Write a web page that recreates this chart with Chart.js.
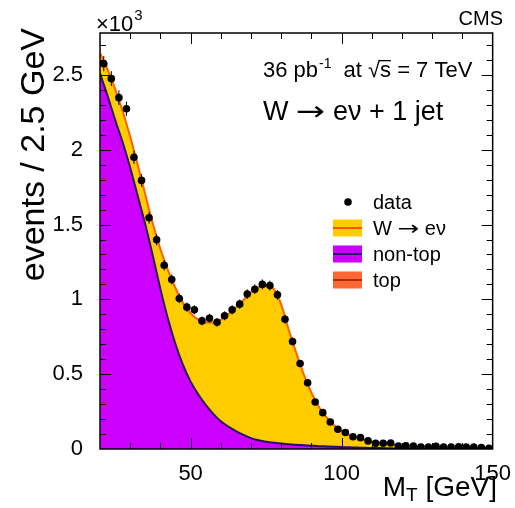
<!DOCTYPE html>
<html>
<head>
<meta charset="utf-8">
<script src="https://cdn.jsdelivr.net/npm/chart.js@4.4.0/dist/chart.umd.min.js"></script>
<style>
  html, body { margin: 0; padding: 0; background: #fff; }
</style>
</head>
<body>
<canvas id="mtChart" width="515" height="508"></canvas>
<script>
// M_T bin edges (GeV), MC curves are given at these points
const binEdges = [20, 22.5, 25, 27.5, 30, 32.5, 35, 37.5, 40, 42.5, 45, 47.5, 50, 52.5, 55, 57.5,
    60, 62.5, 65, 67.5, 70, 72.5, 75, 77.5, 80, 82.5, 85, 87.5, 90, 92.5, 95, 97.5, 100,
    102.5, 105, 107.5, 110, 112.5, 115, 117.5, 120, 122.5, 125, 127.5, 130, 132.5, 135,
    137.5, 140, 142.5, 145, 147.5, 150];

// events per 2.5 GeV bin (data, at bin centres)
const dataCounts = [2575, 2475, 2348, 2274, 1949, 1795, 1545, 1398, 1228, 1133, 1006, 948, 930,
    856, 874, 847, 890, 930, 968, 1035, 1068, 1100, 1092, 1030, 867, 718, 571, 443, 314, 243,
    180, 132, 110, 82, 76, 54, 38, 38, 40, 20, 22, 20, 13, 13, 18, 13, 13, 15, 13, 13, 9, 5];

// MC expectations at the bin edges
const nonTopCounts = [2510, 2360, 2200, 2050, 1880, 1690, 1500, 1290, 1070, 870, 700, 560, 450,
    365, 295, 235, 185, 150, 120, 94, 73, 58, 48, 41, 36, 32, 28, 25, 22, 19, 17, 15, 13, 11,
    10, 8, 7, 6, 5, 4, 4, 3, 3, 2, 2, 2, 2, 1, 1, 1, 1, 1, 1];
const wenuCounts = [137, 177, 207, 207, 207, 207, 200, 215, 266, 326, 376, 416, 456, 500, 550,
    610, 680, 750, 825, 901, 972, 1022, 1047, 1029, 929, 763, 613, 471, 354, 262, 194, 142,
    109, 84, 65, 52, 41, 34, 29, 25, 21, 19, 16, 15, 13, 11, 10, 10, 9, 8, 7, 6, 5];
const topCounts = [3, 3, 3, 3, 3, 3, 3, 3, 4, 4, 4, 4, 4, 5, 5, 5, 5, 5, 5, 5, 5, 5, 5, 5, 5,
    4, 4, 4, 4, 4, 4, 3, 3, 3, 3, 2, 2, 2, 2, 2, 2, 1, 1, 1, 1, 1, 1, 1, 1, 1, 1, 1, 1];

const xTickValues = [50, 100, 150];
const yTickValues = [0, 500, 1000, 1500, 2000, 2500];

const FONT = "'Liberation Sans', Arial, Helvetica, sans-serif";
const ARROW_FONT = "'DejaVu Sans', sans-serif";

const binCentres = dataCounts.map((_, i) => (binEdges[i] + binEdges[i + 1]) / 2);
const toPoints = (xs, ys) => ys.map((y, i) => ({ x: xs[i], y: y }));

// draws a run of text pieces; each piece may have its own size, font, shift and x-stretch
function drawRun(ctx, parts, x, y) {
    parts.forEach(p => {
        ctx.font = p.size + 'px ' + (p.family || FONT);
        const sx = p.stretch || 1;
        const w = ctx.measureText(p.text).width * sx;
        ctx.save();
        ctx.translate(x + (p.gap || 0), y + (p.dy || 0));
        ctx.scale(sx, 1);
        ctx.fillText(p.text, 0, 0);
        ctx.restore();
        if (p.bar) {
            ctx.fillRect(x + (p.gap || 0) + w * p.bar[0], y - p.bar[2], w * (p.bar[1] - p.bar[0]), 1.3);
        }
        x += w + (p.gap || 0);
    });
    return x;
}

// ROOT-like frame with inward ticks on all four sides, error bars, legend and labels
const rootStyle = {
    id: 'rootStyle',
    afterDatasetsDraw(chart) {
        const ctx = chart.ctx;
        const y = chart.scales.y;
        const meta = chart.getDatasetMeta(0);
        ctx.save();
        ctx.strokeStyle = '#000';
        ctx.lineWidth = 1;
        chart.data.datasets[0].data.forEach((p, i) => {
            const err = Math.sqrt(p.y);
            const px = meta.data[i].x;
            ctx.beginPath();
            ctx.moveTo(px, y.getPixelForValue(p.y - err));
            ctx.lineTo(px, y.getPixelForValue(p.y + err));
            ctx.stroke();
        });
        ctx.restore();
    },
    afterDraw(chart) {
        const ctx = chart.ctx;
        const a = chart.chartArea;
        const x = chart.scales.x, y = chart.scales.y;
        ctx.save();
        ctx.strokeStyle = '#000';
        ctx.lineWidth = 1.5;
        ctx.strokeRect(a.left, a.top, a.right - a.left, a.bottom - a.top);
        ctx.lineWidth = 1;
        ctx.beginPath();
        for (let v = 100; v < y.max; v += 100) {
            const len = v % 500 === 0 ? 11 : 6;
            const py = Math.round(y.getPixelForValue(v)) + 0.5;
            ctx.moveTo(a.left, py); ctx.lineTo(a.left + len, py);
            ctx.moveTo(a.right, py); ctx.lineTo(a.right - len, py);
        }
        for (let v = 30; v < x.max; v += 10) {
            const len = v % 50 === 0 ? 11 : 6;
            const px = Math.round(x.getPixelForValue(v)) + 0.5;
            ctx.moveTo(px, a.bottom); ctx.lineTo(px, a.bottom - len);
            ctx.moveTo(px, a.top); ctx.lineTo(px, a.top + len);
        }
        ctx.stroke();

        ctx.fillStyle = '#000';
        ctx.textBaseline = 'alphabetic';
        ctx.textAlign = 'left';

        // axis titles
        ctx.font = '34px ' + FONT;
        ctx.save();
        ctx.translate(44, 28);
        ctx.rotate(-Math.PI / 2);
        ctx.textAlign = 'right';
        ctx.fillText('events / 2.5 GeV', 0, 0);
        ctx.restore();

        ctx.font = '28px ' + FONT;
        const wM = ctx.measureText('M').width;
        const wTail = ctx.measureText(' [GeV]').width;
        ctx.font = '19px ' + FONT;
        const wT = ctx.measureText('T').width;
        drawRun(ctx, [
            { text: 'M', size: 28 },
            { text: 'T', size: 19, dy: 5 },
            { text: ' [GeV]', size: 28 }
        ], 497 - wM - wT - wTail, 496);

        // exponent and experiment labels
        drawRun(ctx, [
            { text: '\u00d710', size: 22 },
            { text: '3', size: 15, dy: -11, gap: 1 }
        ], 96, 31);
        ctx.font = '20px ' + FONT;
        ctx.textAlign = 'right';
        ctx.fillText('CMS', 503, 25);
        ctx.textAlign = 'left';

        drawRun(ctx, [
            { text: '36 pb', size: 22 },
            { text: '-1', size: 14, dy: -9, gap: 1 },
            { text: 'at ', size: 22, gap: 12 },
            { text: '\u221as', size: 22, bar: [0.48, 1.0, 17] },
            { text: ' = 7 TeV', size: 22 }
        ], 263, 77);

        drawRun(ctx, [
            { text: 'W ', size: 27 },
            { text: '\u2192', size: 27, family: ARROW_FONT, stretch: 1.3 },
            { text: ' e\u03bd + 1 jet', size: 27 }
        ], 263, 120);

        // legend
        const ds = chart.data.datasets;
        const entries = [
            { set: ds[0], y: 202 },
            { set: ds[2], y: 228 },
            { set: ds[1], y: 254 },
            { set: ds[3], y: 280 }
        ];
        entries.forEach(e => {
            if (e.set.showLine === false) {
                ctx.fillStyle = '#000';
                ctx.beginPath();
                ctx.arc(348, e.y, 3.8, 0, Math.PI * 2);
                ctx.fill();
            } else {
                ctx.fillStyle = e.set.backgroundColor;
                ctx.fillRect(333, e.y - 8.5, 29, 17);
                ctx.strokeStyle = e.set.legendLine;
                ctx.lineWidth = 2;
                ctx.beginPath();
                ctx.moveTo(333, e.y); ctx.lineTo(362, e.y);
                ctx.stroke();
            }
            ctx.fillStyle = '#000';
            const pieces = e.set.label.split('\u2192');
            const run = [{ text: pieces[0], size: 20 }];
            if (pieces.length > 1) {
                run.push({ text: '\u2192', size: 20, family: ARROW_FONT, stretch: 1.3 });
                run.push({ text: pieces[1], size: 20 });
            }
            drawRun(ctx, run, 373, e.y + 7);
        });
        ctx.restore();
    }
};

const ctx = document.getElementById('mtChart').getContext('2d');

const chart = new Chart(ctx, {
    type: 'line',
    data: {
        datasets: [
            {
                label: 'data',
                data: toPoints(binCentres, dataCounts),
                stack: 'obs',
                showLine: false,
                pointRadius: 3.8,
                pointBackgroundColor: '#000',
                pointBorderWidth: 0,
                fill: false
            },
            {
                label: 'non-top',
                data: toPoints(binEdges, nonTopCounts),
                borderColor: '#2a1060',
                legendLine: '#2a1060',
                backgroundColor: '#cc00ff',
                borderWidth: 2,
                pointRadius: 0,
                cubicInterpolationMode: 'monotone',
                fill: 'origin'
            },
            {
                label: 'W \u2192 e\u03bd',
                data: toPoints(binEdges, wenuCounts),
                borderColor: '#ff6000',
                legendLine: '#ff5000',
                backgroundColor: '#ffcc00',
                borderWidth: 2,
                pointRadius: 0,
                cubicInterpolationMode: 'monotone',
                fill: '-1'
            },
            {
                label: 'top',
                data: toPoints(binEdges, topCounts),
                borderColor: '#ff6000',
                legendLine: '#a83000',
                backgroundColor: '#ff6633',
                borderWidth: 0,
                pointRadius: 0,
                cubicInterpolationMode: 'monotone',
                fill: '-1'
            }
        ]
    },
    options: {
        responsive: false,
        animation: false,
        events: [],
        layout: { padding: { top: 33, right: 19.5, left: 0, bottom: 0 } },
        plugins: {
            legend: { display: false },
            tooltip: { enabled: false },
            filler: { drawTime: 'beforeDatasetsDraw' }
        },
        scales: {
            x: {
                type: 'linear',
                min: 20,
                max: 150,
                grid: { display: false },
                border: { display: false },
                afterBuildTicks: s => { s.ticks = xTickValues.map(v => ({ value: v })); },
                afterFit: s => { s.height = 59; },
                ticks: {
                    autoSkip: false,
                    maxRotation: 0,
                    padding: 4,
                    color: '#000',
                    font: { family: FONT, size: 22 }
                }
            },
            y: {
                stacked: true,
                min: 0,
                max: 2780,
                grid: { display: false },
                border: { display: false },
                afterBuildTicks: s => { s.ticks = yTickValues.map(v => ({ value: v })); },
                afterFit: s => { s.width = 100; },
                ticks: {
                    padding: 9,
                    color: '#000',
                    font: { family: FONT, size: 22 },
                    callback: v => String(v / 1000)
                }
            }
        }
    },
    plugins: [rootStyle]
});
</script>
</body>
</html>
